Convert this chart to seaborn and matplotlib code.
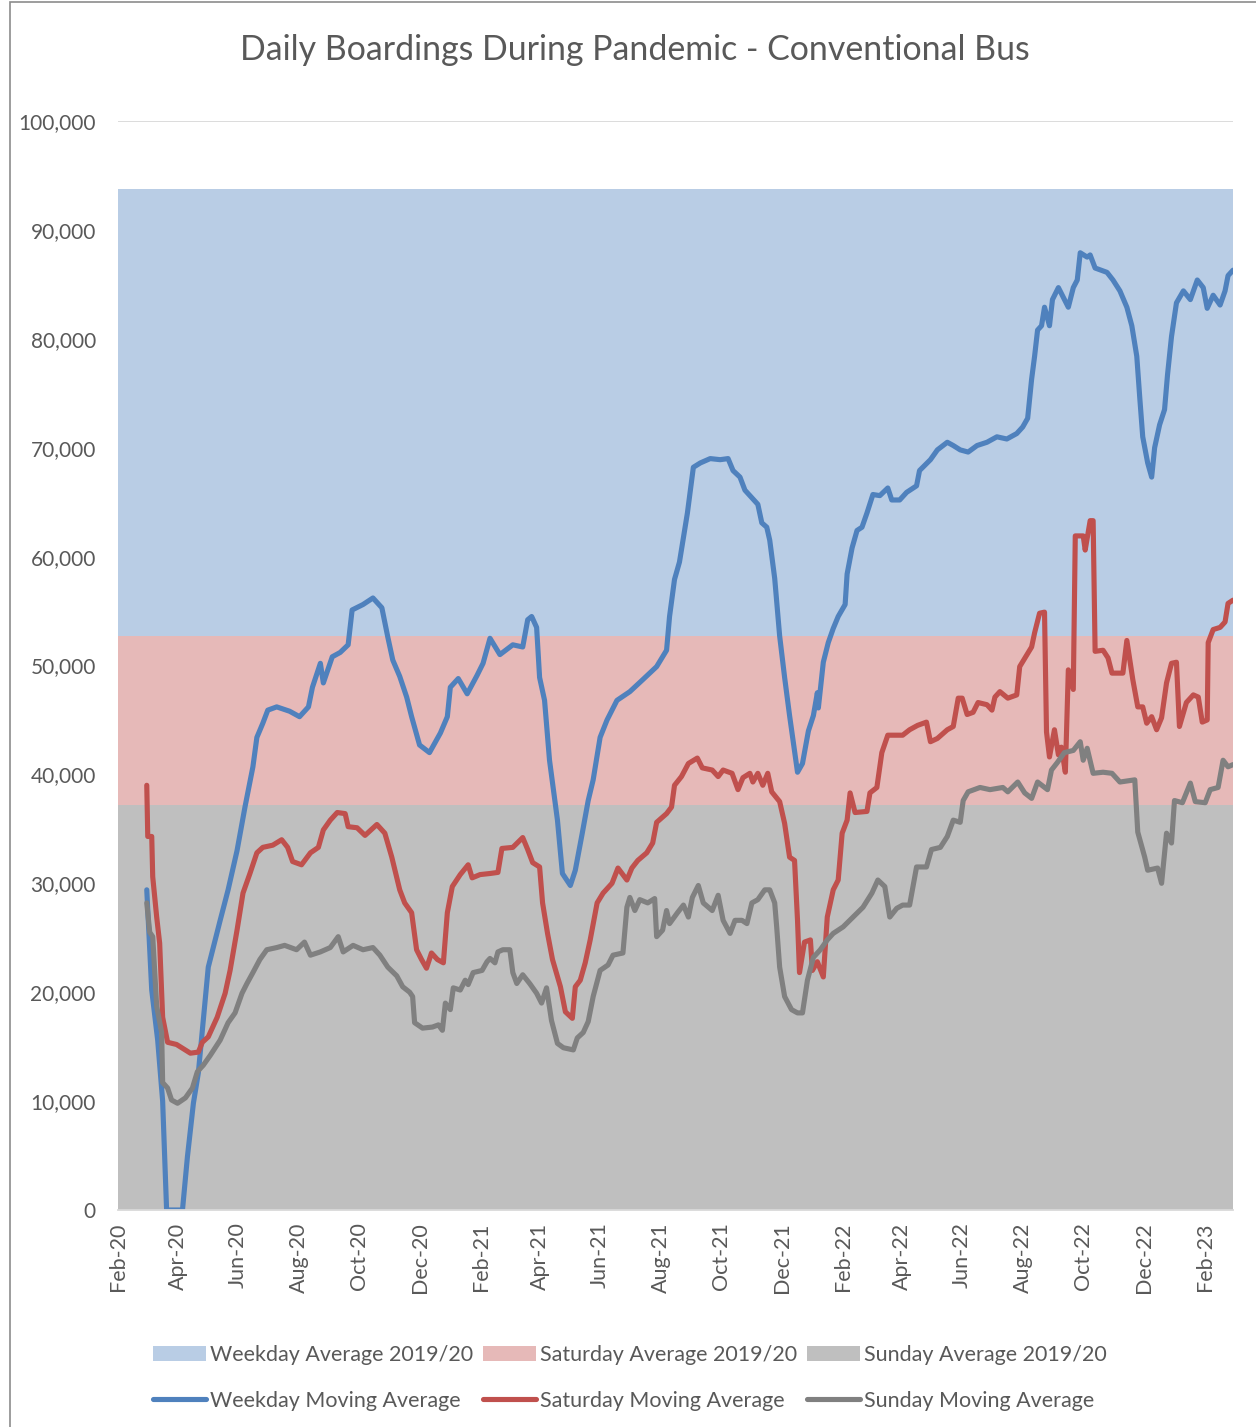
import pandas as pd
import matplotlib
matplotlib.use("Agg")
import matplotlib.pyplot as plt
import matplotlib.dates as mdates
from matplotlib.patches import Patch, Rectangle
from matplotlib.lines import Line2D
from matplotlib.ticker import FuncFormatter, MultipleLocator
import seaborn as sns

START = pd.Timestamp("2020-02-01")
END = pd.Timestamp("2023-03-01")

# 2019/20 averages (flat reference bands)
weekday_avg_2019 = 93750
saturday_avg_2019 = 52700
sunday_avg_2019 = 37200

# moving averages, day = days since 1 Feb 2020
weekday_day = [29, 34, 40, 45, 49, 65, 70, 76, 81, 91, 103, 111, 120, 128, 136, 140, 146, 151, 160, 173,
               183, 192, 196, 204, 207, 216, 224, 232, 236, 247, 257, 266, 272, 277, 284, 291, 296, 304, 314, 325,
               332, 335, 343, 352, 362, 368, 375, 385, 398, 408, 413, 417, 422, 425, 430, 435, 443, 448, 456, 461,
               468, 474, 479, 486, 493, 503, 516, 529, 543, 553, 556, 561, 566, 574, 580, 587, 597, 607, 615, 620,
               627, 632, 639, 645, 649, 654, 657, 662, 667, 672, 677, 685, 690, 696, 701, 705, 706, 711, 716, 721,
               726, 733, 735, 740, 745, 750, 755, 761, 768, 776, 780, 788, 795, 805, 808, 819, 826, 836, 842, 849,
               857, 866, 876, 886, 896, 906, 912, 917, 921, 924, 927, 931, 934, 939, 942, 948, 953, 958, 963, 967,
               970, 977, 980, 985, 997, 1003, 1010, 1017, 1022, 1027, 1030, 1033, 1038, 1042, 1045, 1050, 1055, 1058, 1062, 1067,
               1074, 1081, 1088, 1094, 1098, 1104, 1111, 1116, 1119, 1124]
weekday_val = [29400, 20200, 15600, 10000, 0, 0, 4900, 9800, 12600, 22300, 26600, 29400, 33000, 37000, 40700, 43400, 44700, 45900, 46200, 45800,
               45300, 46200, 48000, 50200, 48400, 50800, 51200, 51900, 55100, 55600, 56200, 55300, 52600, 50500, 49000, 47100, 45300, 42700, 42000, 43800,
               45300, 48000, 48800, 47400, 49100, 50200, 52500, 51000, 51900, 51700, 54200, 54500, 53500, 48900, 46800, 41300, 35800, 30900, 29800, 31200,
               34600, 37600, 39500, 43400, 45000, 46800, 47600, 48700, 49900, 51400, 54500, 57900, 59500, 64000, 68200, 68600, 69000, 68900, 69000, 67900,
               67300, 66100, 65400, 64800, 63100, 62700, 61500, 58000, 52700, 48900, 45400, 40200, 41000, 44000, 45400, 47500, 46100, 50300, 52100, 53400,
               54500, 55600, 58400, 60800, 62400, 62700, 64000, 65700, 65600, 66300, 65200, 65200, 65900, 66500, 67900, 68900, 69800, 70500, 70200, 69800,
               69600, 70200, 70500, 71000, 70800, 71300, 71900, 72700, 76300, 78400, 80800, 81200, 82900, 81200, 83600, 84700, 83800, 82900, 84700, 85400,
               87900, 87500, 87700, 86500, 86100, 85400, 84400, 82900, 81200, 78400, 74600, 71000, 68600, 67300, 70000, 72100, 73500, 76700, 80200, 83300,
               84400, 83600, 85400, 84700, 82800, 84000, 83100, 84400, 85800, 86300]

saturday_day = [29, 30, 34, 35, 39, 42, 45, 50, 59, 73, 81, 85, 91, 100, 108, 113, 120, 126, 133, 140,
                146, 156, 165, 171, 176, 185, 194, 202, 207, 214, 221, 229, 232, 241, 249, 261, 269, 276, 284, 289,
                296, 301, 306, 311, 316, 322, 328, 332, 337, 345, 353, 357, 365, 375, 383, 387, 398, 408, 413, 418,
                425, 428, 433, 438, 446, 451, 458, 461, 466, 471, 476, 483, 489, 498, 504, 513, 518, 524, 533, 539,
                543, 553, 558, 561, 568, 575, 584, 589, 599, 605, 610, 619, 625, 630, 637, 640, 645, 650, 655, 659,
                667, 672, 677, 682, 685, 687, 692, 698, 700, 705, 711, 715, 721, 726, 730, 735, 738, 743, 755, 758,
                765, 770, 776, 791, 798, 806, 815, 819, 826, 836, 842, 847, 851, 856, 862, 867, 876, 881, 884, 889,
                897, 906, 909, 915, 921, 924, 929, 934, 936, 939, 944, 948, 951, 955, 958, 963, 965, 973, 975, 980,
                983, 985, 993, 998, 1002, 1013, 1017, 1020, 1023, 1028, 1033, 1037, 1042, 1047, 1052, 1057, 1062, 1067, 1070, 1077,
                1084, 1089, 1093, 1098, 1099, 1104, 1111, 1116, 1119, 1124]
saturday_val = [39000, 34300, 34300, 30600, 26900, 24500, 17700, 15400, 15200, 14400, 14500, 15400, 15900, 17700, 19900, 22000, 25700, 29100, 30900, 32800,
                33300, 33500, 34000, 33300, 32000, 31700, 32800, 33300, 34900, 35800, 36500, 36400, 35200, 35100, 34400, 35400, 34600, 32400, 29400, 28200,
                27300, 23900, 23000, 22200, 23600, 23000, 22700, 27300, 29700, 30800, 31700, 30500, 30800, 30900, 31000, 33200, 33300, 34200, 33100, 31900,
                31500, 28200, 25400, 23000, 20500, 18200, 17600, 20500, 21100, 22700, 24800, 28200, 29100, 30000, 31400, 30300, 31400, 32100, 32800, 33700,
                35600, 36400, 37000, 39000, 39800, 41000, 41500, 40600, 40400, 39800, 40400, 40100, 38600, 39700, 40100, 39300, 40100, 39000, 40100, 38400,
                37500, 35500, 32400, 32100, 26600, 21800, 24600, 24800, 22000, 22800, 21400, 26900, 29400, 30300, 34600, 35800, 38300, 36500, 36600, 38300,
                38800, 42000, 43600, 43600, 44100, 44500, 44800, 43000, 43300, 44100, 44400, 47000, 47000, 45500, 45700, 46600, 46400, 45900, 47100, 47600,
                47000, 47300, 49900, 50800, 51700, 53000, 54800, 54900, 43900, 41600, 44100, 41800, 42500, 40200, 49600, 47800, 61900, 61900, 60600, 63300,
                63300, 51300, 51400, 50700, 49300, 49300, 52300, 50500, 48700, 46200, 46200, 44700, 45300, 44100, 45200, 48400, 50200, 50300, 44400, 46600,
                47300, 47100, 44800, 45000, 52100, 53300, 53500, 54000, 55700, 56000]

sunday_day = [29, 32, 35, 39, 44, 45, 50, 54, 60, 68, 75, 80, 86, 93, 103, 111, 118, 125, 130, 136,
              143, 150, 160, 168, 180, 188, 194, 204, 214, 222, 227, 237, 247, 257, 264, 272, 281, 287, 294, 297,
              299, 307, 317, 323, 327, 330, 335, 338, 345, 350, 353, 358, 367, 372, 375, 380, 383, 388, 395, 398,
              402, 408, 415, 422, 427, 432, 437, 443, 449, 459, 463, 469, 474, 479, 486, 494, 499, 509, 513, 516,
              521, 526, 534, 541, 543, 549, 553, 556, 564, 570, 575, 579, 585, 590, 599, 605, 610, 617, 622, 629,
              634, 639, 645, 652, 657, 662, 664, 667, 672, 679, 685, 690, 695, 701, 708, 715, 721, 731, 741, 751,
              760, 766, 773, 778, 785, 791, 798, 805, 815, 820, 829, 836, 842, 849, 852, 857, 869, 879, 892, 897,
              907, 914, 921, 927, 937, 941, 947, 954, 963, 970, 973, 977, 983, 993, 1002, 1010, 1025, 1028, 1035, 1038,
              1048, 1052, 1057, 1062, 1065, 1073, 1081, 1086, 1096, 1101, 1109, 1114, 1119, 1124]
sunday_val = [28200, 25500, 25100, 18700, 16300, 11700, 11200, 10100, 9800, 10300, 11200, 12700, 13300, 14200, 15600, 17200, 18100, 19900, 20800, 21800,
              23000, 23900, 24100, 24300, 23900, 24600, 23400, 23700, 24100, 25100, 23700, 24300, 23900, 24100, 23400, 22300, 21500, 20500, 20000, 19600,
              17200, 16700, 16800, 17000, 16500, 19000, 18400, 20400, 20200, 21100, 20700, 21800, 22000, 22800, 23100, 22700, 23700, 23900, 23900, 21800,
              20800, 21600, 20800, 19900, 19000, 20400, 17400, 15300, 14900, 14700, 15800, 16300, 17300, 19600, 22000, 22500, 23400, 23600, 27800, 28700,
              27500, 28500, 28200, 28600, 25100, 25700, 27500, 26300, 27300, 28000, 26900, 28700, 29800, 28200, 27500, 28900, 26600, 25400, 26600, 26600,
              26300, 28200, 28500, 29400, 29400, 28200, 26000, 22300, 19600, 18400, 18100, 18100, 21100, 23200, 23900, 24800, 25400, 26000, 26900, 27800,
              29100, 30300, 29700, 26900, 27700, 28000, 28000, 31500, 31500, 33100, 33300, 34300, 35800, 35600, 37600, 38400, 38800, 38600, 38800, 38400,
              39300, 38300, 37800, 39300, 38600, 40400, 41100, 42000, 42200, 43000, 41300, 42400, 40100, 40200, 40100, 39300, 39500, 34700, 32400, 31200,
              31400, 30000, 34600, 33700, 37600, 37400, 39200, 37500, 37400, 38600, 38800, 41300, 40700, 40900]

TEXT = "#595959"
GRID = "#D9D9D9"
band_colors = ["#B9CDE5", "#E6B9B8", "#BFBFBF"]
line_colors = ["#4F81BD", "#C0504D", "#808080"]


def to_frame(days, vals):
    return pd.DataFrame({"date": START + pd.to_timedelta(days, unit="D"), "boardings": vals})


sns.set_theme(style="white")
plt.rcParams["font.family"] = ["Lato", "DejaVu Sans"]

fig = plt.figure(figsize=(12.56, 14.27), dpi=100)
ax = fig.add_axes([118 / 1256, 1 - 1210 / 1427, (1233 - 118) / 1256, (1210 - 121) / 1427])

# flat 2019/20 bands, drawn over each other (not stacked)
span = [START, END]
for level, col in zip([weekday_avg_2019, saturday_avg_2019, sunday_avg_2019], band_colors):
    ax.fill_between(span, 0, level, color=col, lw=0, zorder=1)

series = [(weekday_day, weekday_val), (saturday_day, saturday_val), (sunday_day, sunday_val)]
for (d, v), col in zip(series, line_colors):
    sns.lineplot(data=to_frame(d, v), x="date", y="boardings", color=col, linewidth=3.7,
                 ax=ax, legend=False, zorder=3)

ax.set_xlim(START, END)
ax.set_ylim(0, 100000)
ax.yaxis.set_major_locator(MultipleLocator(10000))
ax.yaxis.set_major_formatter(FuncFormatter(lambda v, p: f"{v:,.0f}"))
ax.xaxis.set_major_locator(mdates.MonthLocator(bymonth=[2, 4, 6, 8, 10, 12]))
ax.xaxis.set_major_formatter(mdates.DateFormatter("%b-%y"))
ax.grid(axis="y", color=GRID, lw=1.3, zorder=0)
ax.set_axisbelow(True)
for s in ["top", "right", "left"]:
    ax.spines[s].set_visible(False)
ax.spines["bottom"].set_color(GRID)
ax.spines["bottom"].set_linewidth(1.3)
ax.spines["bottom"].set_zorder(4)
ax.tick_params(axis="y", length=0, pad=16, labelsize=15, labelcolor=TEXT)
ax.tick_params(axis="x", direction="in", length=5, color=GRID, pad=9, labelsize=15.5,
               labelcolor=TEXT, labelrotation=90)
ax.set_xlabel("")
ax.set_ylabel("")

fig.text(0.5056, 1 - 50 / 1427, "Daily Boardings During Pandemic - Conventional Bus",
         ha="center", va="center", fontsize=24.4, color=TEXT)

labels = ["Weekday Average 2019/20", "Weekday Moving Average",
          "Saturday Average 2019/20", "Saturday Moving Average",
          "Sunday Average 2019/20", "Sunday Moving Average"]
handles = []
for bc, lc in zip(band_colors, line_colors):
    handles.append(Patch(facecolor=bc, edgecolor="none"))
    handles.append(Line2D([0], [0], color=lc, lw=3.7))
fig.legend(handles, labels, loc="center", bbox_to_anchor=(0.5015, 0.0345), ncol=3, frameon=False,
           fontsize=15.5, handlelength=2.45, handleheight=0.72, handletextpad=0.2, columnspacing=0.45,
           labelspacing=1.2, labelcolor=TEXT)

# chart border (cropped on the right and bottom)
fig.add_artist(Rectangle((10 / 1256, -0.05), 1.2, 1.05 - 2 / 1427, transform=fig.transFigure,
                         fill=False, edgecolor="#8C8C8C", lw=1.2))

fig.savefig("out.png", dpi=100)
